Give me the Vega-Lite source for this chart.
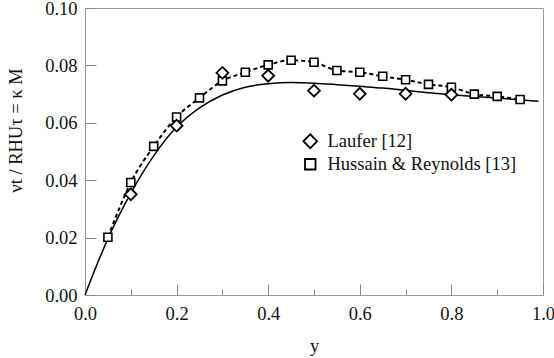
{
  "$schema": "https://vega.github.io/schema/vega-lite/v6.json",
  "width": 458,
  "height": 287,
  "autosize": "none",
  "padding": {"left": 85, "top": 8, "right": 11, "bottom": 63},
  "background": "white",
  "config": {
    "view": {"stroke": "#999999", "strokeWidth": 1},
    "font": "Liberation Serif",
    "axis": {
      "domain": false,
      "grid": false,
      "ticks": true,
      "tickColor": "#888888",
      "tickWidth": 1,
      "tickSize": -11,
      "labelFont": "Liberation Serif",
      "labelFontSize": 18.5,
      "labelColor": "#111111",
      "labelFlush": false,
      "labelOverlap": false,
      "titleFont": "Liberation Serif",
      "titleFontSize": 18.5,
      "titleFontWeight": "normal",
      "titleColor": "#111111"
    }
  },
  "datasets": {
    "model": [
      {"x": 0.0, "y": 0.0},
      {"x": 0.02, "y": 0.0082},
      {"x": 0.05, "y": 0.0196},
      {"x": 0.1, "y": 0.0355},
      {"x": 0.15, "y": 0.0485},
      {"x": 0.2, "y": 0.0585},
      {"x": 0.25, "y": 0.0652},
      {"x": 0.3, "y": 0.0697},
      {"x": 0.35, "y": 0.0724},
      {"x": 0.4, "y": 0.0736},
      {"x": 0.45, "y": 0.074},
      {"x": 0.5, "y": 0.0738},
      {"x": 0.55, "y": 0.0733},
      {"x": 0.6, "y": 0.0727},
      {"x": 0.65, "y": 0.0721},
      {"x": 0.7, "y": 0.0713},
      {"x": 0.75, "y": 0.0705},
      {"x": 0.8, "y": 0.0698},
      {"x": 0.85, "y": 0.0692},
      {"x": 0.9, "y": 0.0686},
      {"x": 0.95, "y": 0.068},
      {"x": 0.99, "y": 0.0675}
    ],
    "points": [
      {"x": 0.1, "y": 0.0351, "series": "Laufer [12]"},
      {"x": 0.2, "y": 0.059, "series": "Laufer [12]"},
      {"x": 0.3, "y": 0.0774, "series": "Laufer [12]"},
      {"x": 0.4, "y": 0.0764, "series": "Laufer [12]"},
      {"x": 0.5, "y": 0.0712, "series": "Laufer [12]"},
      {"x": 0.6, "y": 0.0701, "series": "Laufer [12]"},
      {"x": 0.7, "y": 0.0701, "series": "Laufer [12]"},
      {"x": 0.8, "y": 0.0698, "series": "Laufer [12]"},
      {"x": 0.05, "y": 0.0201, "series": "Hussain & Reynolds [13]"},
      {"x": 0.1, "y": 0.0392, "series": "Hussain & Reynolds [13]"},
      {"x": 0.15, "y": 0.0518, "series": "Hussain & Reynolds [13]"},
      {"x": 0.2, "y": 0.062, "series": "Hussain & Reynolds [13]"},
      {"x": 0.25, "y": 0.0687, "series": "Hussain & Reynolds [13]"},
      {"x": 0.3, "y": 0.0746, "series": "Hussain & Reynolds [13]"},
      {"x": 0.35, "y": 0.0776, "series": "Hussain & Reynolds [13]"},
      {"x": 0.4, "y": 0.0802, "series": "Hussain & Reynolds [13]"},
      {"x": 0.45, "y": 0.0818, "series": "Hussain & Reynolds [13]"},
      {"x": 0.5, "y": 0.0811, "series": "Hussain & Reynolds [13]"},
      {"x": 0.55, "y": 0.0782, "series": "Hussain & Reynolds [13]"},
      {"x": 0.6, "y": 0.0776, "series": "Hussain & Reynolds [13]"},
      {"x": 0.65, "y": 0.0762, "series": "Hussain & Reynolds [13]"},
      {"x": 0.7, "y": 0.075, "series": "Hussain & Reynolds [13]"},
      {"x": 0.75, "y": 0.0734, "series": "Hussain & Reynolds [13]"},
      {"x": 0.8, "y": 0.0724, "series": "Hussain & Reynolds [13]"},
      {"x": 0.85, "y": 0.07, "series": "Hussain & Reynolds [13]"},
      {"x": 0.9, "y": 0.0692, "series": "Hussain & Reynolds [13]"},
      {"x": 0.95, "y": 0.0681, "series": "Hussain & Reynolds [13]"}
    ]
  },
  "layer": [
    {
      "data": {"name": "model"},
      "mark": {"type": "line", "color": "black", "strokeWidth": 1.5, "interpolate": "monotone"},
      "encoding": {
        "x": {
          "field": "x", "type": "quantitative",
          "scale": {"domain": [0, 1], "nice": false},
          "axis": {
            "values": [0, 0.2, 0.4, 0.6, 0.8, 1.0],
            "format": ".1f",
            "labelPadding": 20,
            "title": "y",
            "titleBaseline": "alphabetic",
            "titleY": 56
          }
        },
        "y": {
          "field": "y", "type": "quantitative",
          "scale": {"domain": [0, 0.1], "nice": false},
          "axis": {
            "values": [0, 0.02, 0.04, 0.06, 0.08, 0.1],
            "format": ".2f",
            "labelPadding": 19,
            "title": "νt / RHUτ = κ M",
            "titleAngle": -90,
            "titleAlign": "center",
            "titleBaseline": "middle",
            "titleX": -69.5,
            "titleY": 122
          }
        }
      }
    },
    {
      "data": {"name": "points"},
      "transform": [{"filter": "datum.series === 'Hussain & Reynolds [13]'"}],
      "mark": {"type": "line", "color": "black", "strokeWidth": 2, "strokeDash": [4, 3], "interpolate": "monotone"},
      "encoding": {
        "x": {
          "field": "x", "type": "quantitative",
          "axis": {
            "orient": "bottom",
            "values": [0.1, 0.3, 0.5, 0.7, 0.9],
            "labels": false,
            "tickSize": -6,
            "title": null
          }
        },
        "y": {"field": "y", "type": "quantitative"}
      }
    },
    {
      "data": {"name": "points"},
      "transform": [{"filter": "datum.series === 'Hussain & Reynolds [13]'"}],
      "mark": {"type": "point", "filled": true, "fill": "white", "stroke": "black", "strokeWidth": 1.6, "opacity": 1, "size": 64},
      "encoding": {
        "x": {"field": "x", "type": "quantitative", "axis": null},
        "y": {"field": "y", "type": "quantitative"},
        "shape": {
          "field": "series", "type": "nominal",
          "scale": {"domain": ["Laufer [12]", "Hussain & Reynolds [13]"], "range": ["diamond", "square"]},
          "legend": {
            "orient": "none",
            "legendX": 216,
            "legendY": 124,
            "title": null,
            "padding": 0,
            "rowPadding": 3,
            "labelFont": "Liberation Serif",
            "labelFontSize": 18.5,
            "labelColor": "#111111",
            "labelLimit": 0,
            "labelOffset": 8,
            "symbolSize": 144,
            "symbolFillColor": "white",
            "symbolStrokeColor": "black",
            "symbolStrokeWidth": 1.8,
            "symbolOpacity": 1,
            "encoding": {
              "symbols": {
                "size": {"value": {"expr": "datum.value === 'Laufer [12]' ? 190 : 110"}},
                "fill": {"value": "white"},
                "stroke": {"value": "black"},
                "strokeWidth": {"value": 1.8},
                "opacity": {"value": 1}
              }
            }
          }
        }
      }
    },
    {
      "data": {"name": "points"},
      "transform": [{"filter": "datum.series === 'Laufer [12]'"}],
      "mark": {"type": "point", "filled": true, "fill": "white", "stroke": "black", "strokeWidth": 1.8, "opacity": 1, "size": 140},
      "encoding": {
        "x": {"field": "x", "type": "quantitative", "axis": null},
        "y": {"field": "y", "type": "quantitative"},
        "shape": {"field": "series", "type": "nominal"}
      }
    }
  ],
  "resolve": {"axis": {"x": "independent"}}
}
